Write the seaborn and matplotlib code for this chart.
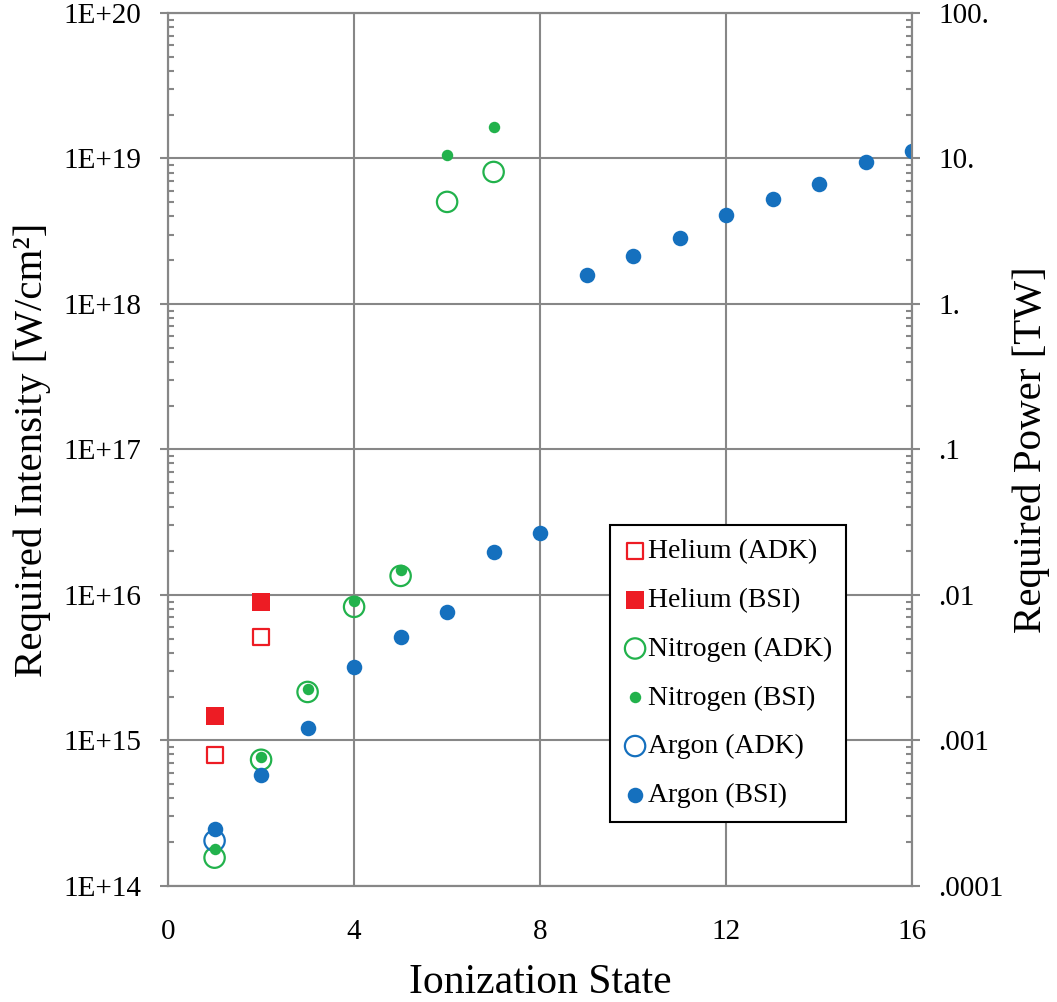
import numpy as np
import pandas as pd
import matplotlib
matplotlib.use("Agg")
import matplotlib.pyplot as plt
import matplotlib.ticker as mticker
import seaborn as sns

# data
helium_adk_x = [1, 2]
helium_adk_y = [7.9e14, 5.15e15]
helium_bsi_x = [1, 2]
helium_bsi_y = [1.47e15, 8.95e15]

nitrogen_adk_x = [1, 2, 3, 4, 5, 6, 7]
nitrogen_adk_y = [1.56e14, 7.35e14, 2.15e15, 8.27e15, 1.35e16, 5.03e18, 8.08e18]
nitrogen_bsi_x = [1, 2, 3, 4, 5, 6, 7]
nitrogen_bsi_y = [1.8e14, 7.7e14, 2.26e15, 9.1e15, 1.49e16, 1.06e19, 1.65e19]

argon_adk_x = [1]
argon_adk_y = [2.04e14]
argon_bsi_x = list(range(1, 17))
argon_bsi_y = [2.47e14, 5.8e14, 1.22e15, 3.2e15, 5.1e15, 7.6e15, 1.98e16, 2.67e16,
               1.58e18, 2.14e18, 2.84e18, 4.09e18, 5.27e18, 6.68e18, 9.46e18, 1.13e19]

decades = [14, 15, 16, 17, 18, 19, 20]
power_labels = [".0001", ".001", ".01", ".1", "1.", "10.", "100."]

red = "#ED1C24"
green = "#22B24C"
blue = "#1570BE"
gray = "#878787"

sns.set_style("white")
plt.rcParams['font.family'] = ['Liberation Serif', 'DejaVu Serif']
plt.rcParams['text.color'] = 'black'
plt.rcParams['axes.labelcolor'] = 'black'

fig = plt.figure(figsize=(10.57, 10.02), dpi=100)
ax = fig.add_axes([0.159, 0.116, 0.704, 0.871])

sns.scatterplot(x=helium_adk_x, y=helium_adk_y, ax=ax, marker="s", s=140,
                facecolor="white", edgecolor=red, linewidth=1.6, label="Helium (ADK)", zorder=3)
sns.scatterplot(x=helium_bsi_x, y=helium_bsi_y, ax=ax, marker="s", s=150,
                color=red, edgecolor=red, linewidth=0, label="Helium (BSI)", zorder=3)
sns.scatterplot(x=nitrogen_adk_x, y=nitrogen_adk_y, ax=ax, marker="o", s=215,
                facecolor="none", edgecolor=green, linewidth=1.6, label="Nitrogen (ADK)", zorder=3)
sns.scatterplot(x=nitrogen_bsi_x, y=nitrogen_bsi_y, ax=ax, marker="o", s=68,
                color=green, edgecolor=green, linewidth=0, label="Nitrogen (BSI)", zorder=4)
sns.scatterplot(x=argon_adk_x, y=argon_adk_y, ax=ax, marker="o", s=215,
                facecolor="none", edgecolor=blue, linewidth=1.6, label="Argon (ADK)", zorder=3)
sns.scatterplot(x=argon_bsi_x, y=argon_bsi_y, ax=ax, marker="o", s=125,
                color=blue, edgecolor=blue, linewidth=0, label="Argon (BSI)", zorder=4)

ax.set_yscale("log")
ax.set_xlim(0, 16)
ax.set_ylim(1e14, 1e20)

ax.xaxis.set_major_locator(mticker.MultipleLocator(4))
ax.xaxis.set_minor_locator(mticker.MultipleLocator(1))
ax.yaxis.set_major_locator(mticker.FixedLocator([10.0 ** d for d in decades]))
ax.yaxis.set_major_formatter(mticker.FixedFormatter([f"1E+{d}" for d in decades]))
ax.yaxis.set_minor_locator(mticker.LogLocator(base=10, subs=np.arange(2, 10), numticks=20))
ax.yaxis.set_minor_formatter(mticker.NullFormatter())

ax.grid(True, which="major", color=gray, linewidth=1.5)
ax.set_axisbelow(True)
for sp in ax.spines.values():
    sp.set_color(gray)
    sp.set_linewidth(1.5)

ax.tick_params(which="major", direction="out", length=6, width=1.5, color=gray,
               labelcolor="black", labelsize=21)
ax.tick_params(axis="y", which="major", pad=13)
ax.tick_params(axis="x", which="major", pad=18)
ax.tick_params(which="minor", direction="in", length=4.5, width=1.5, color=gray)

ax.set_xlabel("Ionization State", fontsize=30, labelpad=13)
ax.set_ylabel("Required Intensity [W/cm²]", fontsize=29.5, labelpad=9)

# right axis: power in TW
ax2 = ax.twinx()
ax2.set_yscale("log")
ax2.set_ylim(1e-4, 1e2)
ax2.yaxis.set_major_locator(mticker.FixedLocator([10.0 ** (d - 18) for d in decades]))
ax2.yaxis.set_major_formatter(mticker.FixedFormatter(power_labels))
ax2.yaxis.set_minor_locator(mticker.LogLocator(base=10, subs=np.arange(2, 10), numticks=20))
ax2.yaxis.set_minor_formatter(mticker.NullFormatter())
ax2.tick_params(which="major", direction="out", length=6, width=1.5, color=gray,
                labelcolor="black", labelsize=21, pad=13)
ax2.tick_params(which="minor", direction="in", length=4.5, width=1.5, color=gray)
for sp in ax2.spines.values():
    sp.set_color(gray)
    sp.set_linewidth(1.5)
ax2.set_ylabel("Required Power [TW]", fontsize=29.5, labelpad=6)

leg = ax.legend(loc="upper left", bbox_to_anchor=(0.594, 0.4135), fontsize=20,
                frameon=True, fancybox=False, edgecolor="black", framealpha=1,
                handletextpad=0.05, labelspacing=0.84, borderpad=0.5,
                handlelength=0.8, borderaxespad=0)
leg.get_frame().set_linewidth(1.5)
leg.set_zorder(10)

fig.savefig("out.png", dpi=100)
